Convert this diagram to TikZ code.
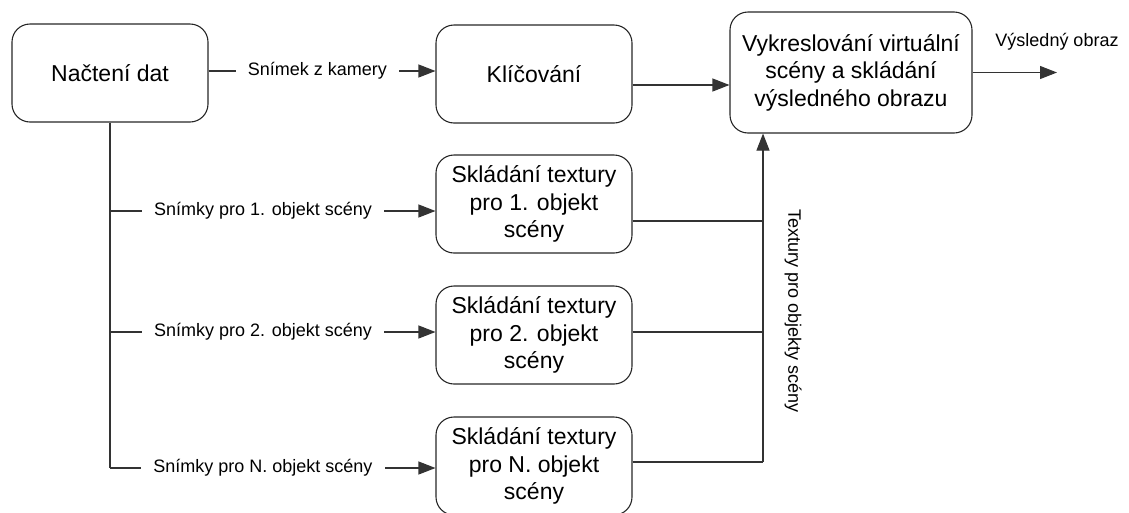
\documentclass[tikz,border=0pt]{standalone}
\usepackage{fontspec}
\setmainfont{Liberation Sans}
\usetikzlibrary{arrows.meta}

\begin{document}
\begin{tikzpicture}[x=1pt, y=-1pt,
  stage/.style={draw=black!85, line width=1.1pt, rounded corners=18pt,
    align=center, inner sep=0pt, font=\fontsize{23}{27.5}\selectfont},
  wide/.style={stage, minimum width=196pt, minimum height=98pt},
  flow/.style={draw=black!80, line width=1.1pt},
  arrow/.style={flow, -{Triangle[length=17pt, width=13pt]}},
  lbl/.style={font=\fontsize{18}{21}\selectfont, fill=white, inner xsep=12pt, inner ysep=2pt}
]
\useasboundingbox (0,0) rectangle (1129,512);

% processing stages
\node[wide] (load) at (110,73) {Načtení dat};
\node[wide] (key) at (534,74) {Klíčování};
\node[stage, minimum width=242pt, minimum height=121pt] (render) at (851,72.5)
  {Vykreslování virtuální\\scény a skládání\\výsledného obrazu};
\node[wide] (tex1) at (534,204) {Skládání textury\\pro 1. objekt\\scény};
\node[wide] (tex2) at (534,335) {Skládání textury\\pro 2. objekt\\scény};
\node[wide] (texN) at (534,466) {Skládání textury\\pro N. objekt\\scény};

% camera frame to keying
\coordinate (l0) at ([yshift=2pt]load.east);
\draw[arrow] (l0) -- node[lbl, pos=0.48] {Snímek z kamery} (l0 -| key.west);

% keying to rendering
\coordinate (k0) at ([yshift=-11pt]key.east);
\draw[arrow] (k0) -- (k0 -| render.west);

% final output
\coordinate (out) at (1057,72.5);
\draw[arrow] (render.east) -- (out);
\node[font=\fontsize{18}{21}\selectfont] (outlbl) at (1057,42) {Výsledný obraz};

% frames for each scene object
\coordinate (b1) at ([yshift=-7pt]tex1.west);
\coordinate (b2) at ([yshift=3pt]tex2.west);
\coordinate (bN) at ([yshift=-2pt]texN.west);
\draw[flow] (load.south) -- (load.south |- bN);
\draw[arrow] (load.south |- b1) -- node[lbl, pos=0.47] {Snímky pro 1. objekt scény} (b1);
\draw[arrow] (load.south |- b2) -- node[lbl, pos=0.47] {Snímky pro 2. objekt scény} (b2);
\draw[arrow] (load.south |- bN) -- node[lbl, pos=0.47] {Snímky pro N. objekt scény} (bN);

% textures collected for rendering
\coordinate (c1) at ([yshift=-17pt]tex1.east);
\coordinate (c2) at ([yshift=3pt]tex2.east);
\coordinate (cN) at ([yshift=4pt]texN.east);
\coordinate (bus) at (763,462);
\draw[flow] (c1) -- (c1 -| bus);
\draw[flow] (c2) -- (c2 -| bus);
\draw[flow] (cN) -- (cN -| bus);
\draw[arrow] (cN -| bus) -- (bus |- render.south);
\node[font=\fontsize{18}{21}\selectfont, rotate=-90] (buslbl) at (793,311) {Textury pro objekty scény};
\end{tikzpicture}
\end{document}
